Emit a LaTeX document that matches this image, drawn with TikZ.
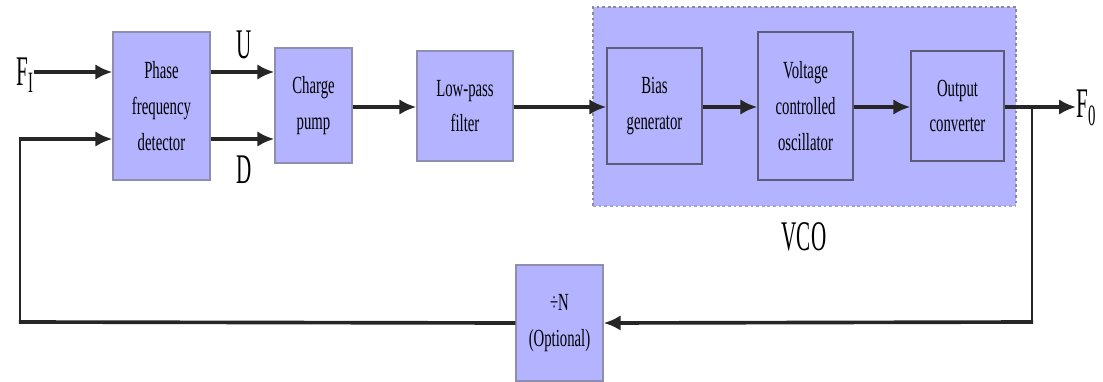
\documentclass[tikz,border=0pt]{standalone}
\usepackage{fontspec}
\setmainfont{Liberation Serif}
\newfontfamily\boxfont[FakeStretch=0.6]{Liberation Serif}
\newfontfamily\labelfont[FakeStretch=0.5]{Liberation Serif}
\usetikzlibrary{arrows.meta}
\definecolor{blockfill}{HTML}{B3B3FF}
\definecolor{blockline}{HTML}{8E8EAE}
\definecolor{innerline}{HTML}{5C5C78}
\definecolor{vcoline}{HTML}{8A8A9A}
\tikzset{
  block/.style={draw=blockline, fill=blockfill, line width=1pt, inner sep=0pt,
    align=center, font=\boxfont\fontsize{17.5}{25.5}\selectfont},
  inblock/.style={block, draw=innerline},
  sig/.style={line width=2.6pt, draw=black!85, -{Latex[length=12pt,width=11pt]}},
  thin/.style={line width=1.5pt, draw=black!85},
  lbl/.style={inner sep=0pt, font=\labelfont\fontsize{30}{30}\selectfont}
}
\begin{document}
\begin{tikzpicture}[x=0.025cm, y=-0.025cm]
      \useasboundingbox (0,0) rectangle (1103,381);
      \fill[blockfill] (593,7) rectangle (1016,206);
      \draw[vcoline, line width=1pt, dash pattern=on 2pt off 2pt] (593,206) |- (1016,7) -- (1016,206);
      \draw[blockfill!60!vcoline, line width=1.2pt, dash pattern=on 2pt off 2pt] (593,206) -- (1016,206);
      \node[block, minimum width=2.425cm, minimum height=3.7cm] (pfd) at (161.5,106) {Phase\\frequency\\detector};
      \node[block, minimum width=1.925cm, minimum height=2.875cm] (cp) at (313.5,105.5) {Charge\\pump};
      \node[block, minimum width=2.4cm, minimum height=2.75cm] (lpf) at (465,106) {Low-pass\\filter};
      \node[inblock, minimum width=2.375cm, minimum height=2.9cm] (bias) at (654.5,106) {Bias\\generator};
      \node[inblock, minimum width=2.375cm, minimum height=3.7cm] (osc) at (805.5,106) {Voltage\\controlled\\oscillator};
      \node[inblock, minimum width=2.325cm, minimum height=2.75cm] (conv) at (957.5,106) {Output\\converter};
      \node[block, minimum width=2.175cm, minimum height=2.9cm] (div) at (559.5,323) {÷N\\(Optional)};
      \node[lbl, anchor=east] (fi) at (34,75) {F\textsubscript{I}};
      \node[lbl, anchor=west] (fo) at (1076,108) {F\textsubscript{0}};
      \node[lbl] (u) at (244,45) {U};
      \node[lbl] (d) at (244,170) {D};
      \node[lbl] (vco) at (804,237) {VCO};
      % feedback corners
      \coordinate (tap) at (1032,107);
      \coordinate (tapdown) at (1032,322);
      \coordinate (retdown) at (20,322);
      \coordinate (ret) at (20,139);
      \begin{scope}[thin]
        \draw (tap) to (tapdown);
        \draw (retdown) to (ret);
      \end{scope}
      \begin{scope}[sig]
        \draw (fi.east |- 0,72) to (pfd.west |- 0,72);
        \draw ([yshift=0.85cm]pfd.east) to ([yshift=0.85cm]pfd.east -| cp.west);
        \draw ([yshift=-0.825cm]pfd.east) to ([yshift=-0.825cm]pfd.east -| cp.west);
        \draw (cp.east |- 0,107) to (lpf.west |- 0,107);
        \draw (lpf.east |- 0,107) to (bias.west |- 0,107);
        \draw (bias.east |- 0,107) to (osc.west |- 0,107);
        \draw (osc.east |- 0,107) to (conv.west |- 0,107);
        \draw (conv.east |- 0,107) to (fo.west |- 0,107);
        \draw ([xshift=0.75pt]tapdown) to (div.east);
        \draw[-] (div.west) to ([xshift=-0.75pt]retdown);
        \draw ([xshift=-0.75pt]ret) to (ret -| pfd.west);
      \end{scope}
    \end{tikzpicture}
\end{document}
